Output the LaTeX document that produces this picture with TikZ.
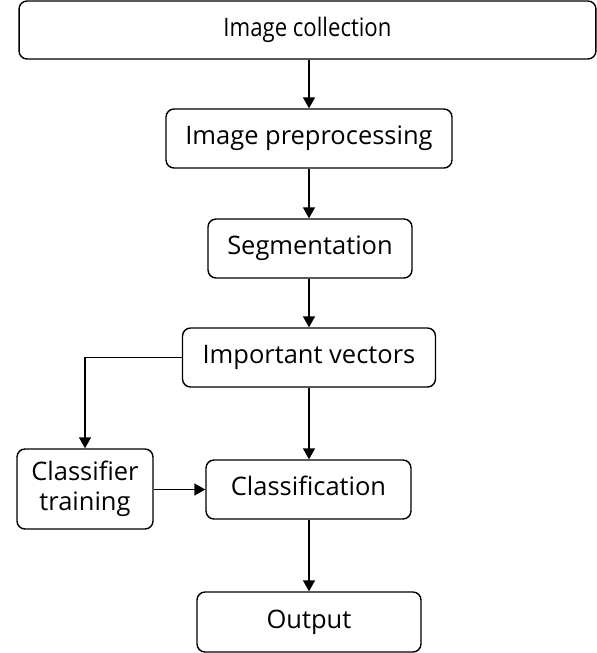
\documentclass[tikz,border=0pt]{standalone}
\usepackage{fontspec}
\setmainfont{Open Sans}
\newfontfamily\topfont[FakeStretch=0.87]{Open Sans}
\usetikzlibrary{arrows.meta}

\tikzset{
    box/.style={draw, line width=0.8pt, rounded corners=0.16cm,
        inner sep=0pt, align=center, font=\fontsize{14.5}{17}\selectfont},
    line/.style={text height=0.72em, text depth=0pt},
    flow/.style={-{Triangle[length=0.22cm,width=0.24cm]}, line width=0.8pt}
}

\begin{document}
\begin{tikzpicture}[x=0.02cm, y=-0.02cm]
                \useasboundingbox (0,0) rectangle (597,653);

                \node[box, line, minimum width=11.54cm, minimum height=1.16cm,
                    font=\topfont\fontsize{14.5}{17}\selectfont]
                    (collect) at (307.5,30) {Image collection};
                \node[box, line, minimum width=5.72cm, minimum height=1.18cm]
                    (prep) at (309,138.5) {Image preprocessing};
                \node[box, line, minimum width=4.08cm, minimum height=1.18cm]
                    (seg) at (310,248.5) {Segmentation};
                \node[box, line, minimum width=5.06cm, minimum height=1.18cm]
                    (vec) at (309,357.5) {Important vectors};
                \node[box, minimum width=2.72cm, minimum height=1.6cm]
                    (train) at (85,489) {Classifier\\training};
                \node[box, line, minimum width=4.1cm, minimum height=1.18cm]
                    (cls) at (308.5,489.5) {Classification};
                \node[box, line, minimum width=4.48cm, minimum height=1.2cm]
                    (out) at (309,622) {Output};

                \draw[flow] (collect.south -| prep) -- (prep);
                \draw[flow] (prep.south -| vec) -- (seg.north -| vec);
                \draw[flow] (seg.south -| vec) -- (vec);
                \draw[flow] (vec.west) -| (train.north);
                \draw[flow] (vec) -- (cls.north -| vec);
                \draw[flow] (train.east |- cls.west) -- (cls.west);
                \draw[flow] (cls.south -| out) -- (out);
            \end{tikzpicture}
\end{document}
